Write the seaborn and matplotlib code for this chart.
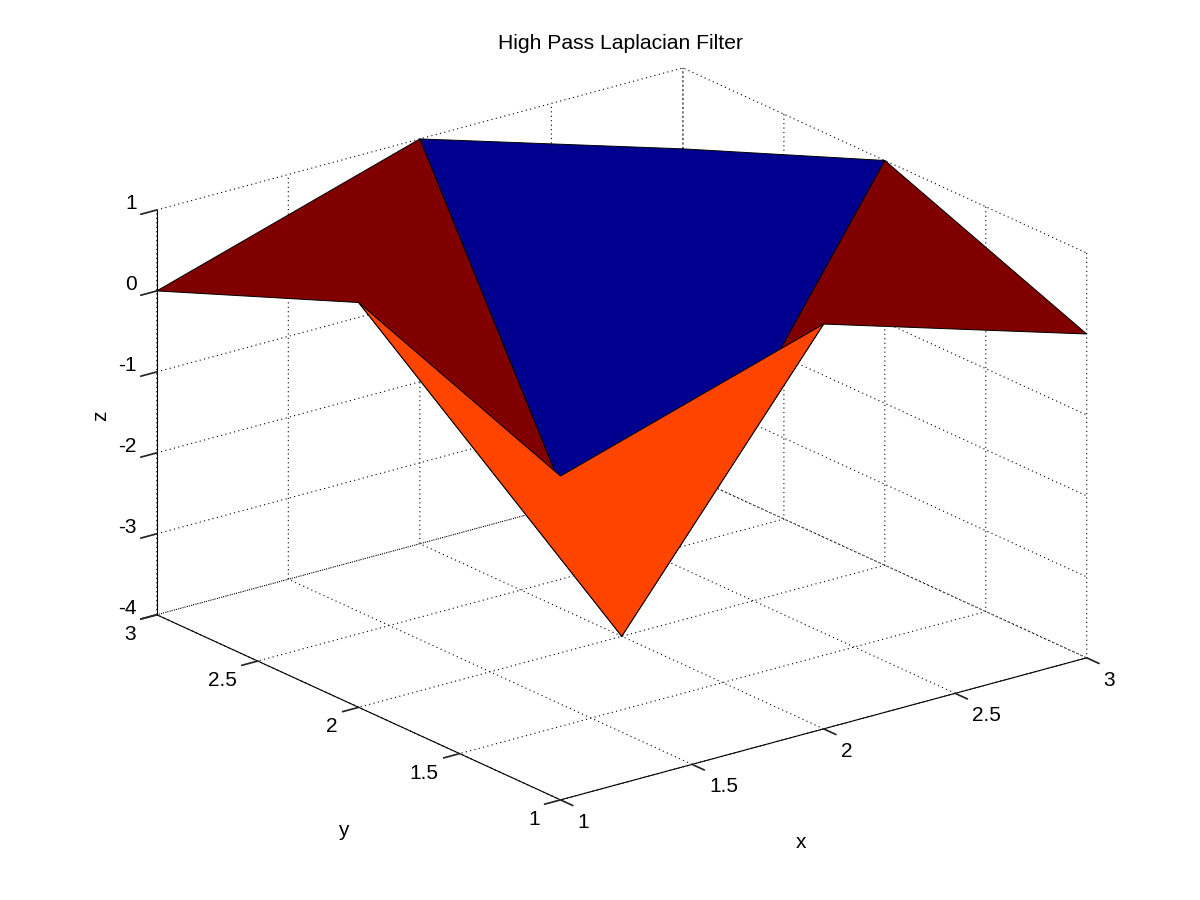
import numpy as np
import seaborn as sns
import matplotlib.pyplot as plt
from matplotlib.transforms import Affine2D

x_vals = [1, 2, 3]
y_vals = [1, 2, 3]
z_vals = [
    [0, 1, 0],
    [1, -4, 1],
    [0, 1, 0],
]
x_ticks = [1, 1.5, 2, 2.5, 3]
y_ticks = [1, 1.5, 2, 2.5, 3]
z_ticks = [-4, -3, -2, -1, 0, 1]
x_labels = ["1", "1.5", "2", "2.5", "3"]
y_labels = ["1", "1.5", "2", "2.5", "3"]
z_labels = ["-4", "-3", "-2", "-1", "0", "1"]

# jet colours the panels pick up
z_colors = {-4: "#00008f", 0: "#ff4400", 1: "#800000"}

sns.set_theme(style="white")
plt.rcParams["font.family"] = ["Liberation Sans", "DejaVu Sans"]

X, Y = np.meshgrid(x_vals, y_vals)
Z = np.array(z_vals, dtype=float)

# flat shading, each panel takes the colour of its first corner (like MATLAB surf)
face = np.empty((2, 2), dtype=object)
for i in range(2):
    for j in range(2):
        face[i, j] = z_colors[z_vals[i][j]]

fig = plt.figure(figsize=(12, 9), dpi=100)
ax = fig.add_axes([0.0792, 0.066, 0.86, 0.88], projection="3d")
ax.set_proj_type("ortho")
ax.view_init(elev=20.6, azim=-127.5)
ax.set_box_aspect((1, 1, 0.652), zoom=1.266)

surf = ax.plot_surface(X, Y, Z, rstride=1, cstride=1, facecolors=face, shade=False,
                       edgecolor="black", linewidth=0.7, antialiased=True)
surf.set_clip_on(False)

ax.set_xlim(1, 3, view_margin=0)
ax.set_ylim(1, 3, view_margin=0)
ax.set_zlim(-4, 1, view_margin=0)
ax.set_xticks(x_ticks, x_labels)
ax.set_yticks(y_ticks, y_labels)
ax.set_zticks(z_ticks, z_labels)
# pad -8 cancels mplot3d's built-in offset, labels then start on the tick
ax.tick_params(width=0.6, labelsize=15, labelcolor="black", pad=-8)

ax.set_xlabel("x", fontsize=15, color="black", labelpad=-8)
ax.set_ylabel("y", fontsize=15, color="black", labelpad=-8)
ax.set_zlabel("z", fontsize=15, color="black", labelpad=-8, rotation=90)
ax.zaxis.set_rotate_label(False)

for axis in (ax.xaxis, ax.yaxis, ax.zaxis):
    axis.set_pane_color((1, 1, 1, 0))
    axis.pane.set_edgecolor((1, 1, 1, 0))
    axis.line.set_color("black")
    axis.line.set_linewidth(0.8)
    axis._axinfo["grid"].update(color="black", linestyle=(0, (1, 3)), linewidth=0.8)
    axis._axinfo["tick"].update(color="black", inward_factor=0.38, outward_factor=0)


def shift(text, dx, dy):
    # mplot3d resets label transforms on draw, so override the getter to nudge by pixels
    text.get_transform = lambda: ax.transData + Affine2D().translate(dx, -dy)


for tick in ax.xaxis.get_major_ticks():
    tick.label1.set_ha("left")
    shift(tick.label1, 17, 13)
for tick in ax.yaxis.get_major_ticks():
    tick.label1.set_ha("right")
    shift(tick.label1, -21, 10)
for tick in ax.zaxis.get_major_ticks():
    tick.label1.set_ha("right")
    shift(tick.label1, -20, -16)

shift(ax.xaxis.label, -40, 88)
shift(ax.yaxis.label, 8, 99)
shift(ax.zaxis.label, -15, 5)

fig.text(0.5167, 0.952, "High Pass Laplacian Filter", ha="center", va="center",
         fontsize=15.2, color="black")

fig.savefig("out.png", dpi=100)
